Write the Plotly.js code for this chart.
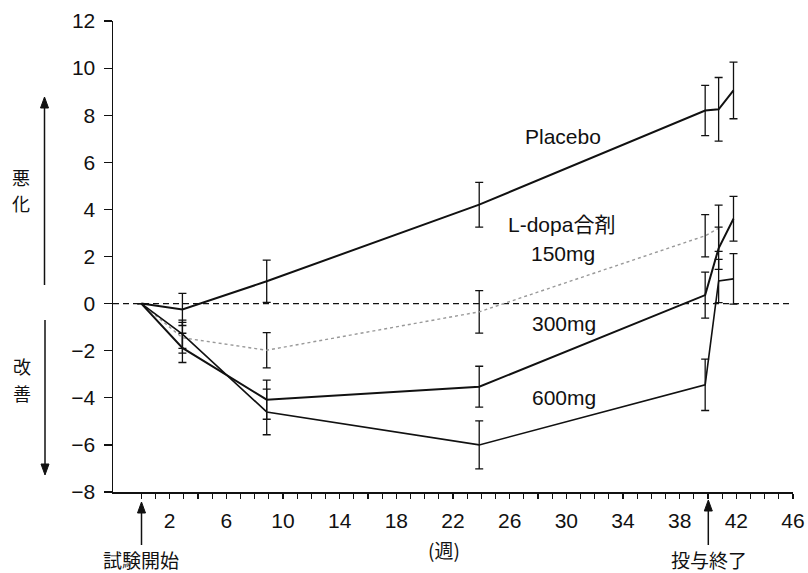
<!DOCTYPE html>
<html>
<head>
<meta charset="utf-8">
<script src="https://cdn.plot.ly/plotly-3.0.1.min.js"></script>
<style>html,body{margin:0;padding:0;background:#fff;}#chart{width:808px;height:573px;}</style>
</head>
<body>
<div id="chart"></div>
<script>
// ---- data (weeks, change from baseline) ----
const placeboWeeks = [0, 2.9, 8.85, 23.85, 39.8, 40.75, 41.8];
const placeboVals  = [0, -0.25, 0.95, 4.2, 8.2, 8.25, 9.05];
const placeboErr   = [null, 0.68, 0.9, 0.95, 1.07, 1.35, 1.2];

const dose150Weeks = [0, 2.9, 8.85, 23.85, 39.8, 40.75];
const dose150Vals  = [0, -1.45, -1.98, -0.35, 2.88, 3.2];
const dose150Err   = [null, 0.65, 0.75, 0.9, 0.9, 0.98];

const dose300Weeks = [0, 2.9, 8.85, 23.85, 39.8, 40.75, 41.8];
const dose300Vals  = [0, -1.88, -4.08, -3.53, 0.36, 2.35, 3.6];
const dose300Err   = [null, 0.62, 0.83, 0.87, 0.98, 0.9, 0.95];

const dose600Weeks = [0, 2.9, 8.85, 23.85, 39.8, 40.75, 41.8];
const dose600Vals  = [0, -1.3, -4.6, -6.0, -3.45, 0.96, 1.05];
const dose600Err   = [null, 0.6, 0.97, 1.02, 1.09, 0.92, 1.07];

const xTickVals = Array.from({length: 47}, (_, i) => i);
const xLabelled = [2, 6, 10, 14, 18, 22, 26, 30, 34, 38, 42, 46];
const yTickVals = [-8, -6, -4, -2, 0, 2, 4, 6, 8, 10, 12];

// ---- geometry helpers (pixel -> paper) ----
const M = {l: 113, r: 15, t: 21, b: 81};
const W = 808, H = 573;
const PW = W - M.l - M.r, PH = H - M.t - M.b;
const px = x => (x - M.l) / PW;
const py = y => (H - M.b - y) / PH;

const NUM_FONT = 'Liberation Sans, Arial, sans-serif';
const CJK_FONT = 'Noto Sans CJK JP, sans-serif';

function series(xs, ys, es, line) {
  return {
    type: 'scatter', mode: 'lines', x: xs, y: ys,
    line: line,
    error_y: {type: 'data', array: es, visible: true, color: '#111', thickness: 1.3, width: 4},
    hoverinfo: 'skip', showlegend: false, cliponaxis: false
  };
}

const traces = [
  series(dose150Weeks, dose150Vals, dose150Err, {color: '#999', width: 1.4, dash: 'dot'}),
  series(placeboWeeks, placeboVals, placeboErr, {color: '#111', width: 2}),
  series(dose300Weeks, dose300Vals, dose300Err, {color: '#111', width: 2}),
  series(dose600Weeks, dose600Vals, dose600Err, {color: '#111', width: 1.6})
];

function txt(t, x, y, size, font) {
  return {text: t, xref: 'paper', yref: 'paper', x: px(x), y: py(y),
          xanchor: 'center', yanchor: 'middle', showarrow: false,
          font: {family: font || NUM_FONT, size: size || 20, color: '#111'}};
}

// arrow drawn as shapes: shaft + filled triangular head
function arrowShapes(x, yHead, yTail) {
  const dir = yHead < yTail ? 1 : -1; // 1: pointing up
  const hl = 11, hw = 4;
  const base = yHead + dir * hl;
  return [
    {type: 'line', xref: 'paper', yref: 'paper', x0: px(x), x1: px(x), y0: py(yTail), y1: py(base),
     line: {color: '#111', width: 1.5}},
    {type: 'path', xref: 'paper', yref: 'paper',
     path: `M ${px(x)} ${py(yHead)} L ${px(x - hw)} ${py(base)} L ${px(x + hw)} ${py(base)} Z`,
     fillcolor: '#111', line: {color: '#111', width: 1}}
  ];
}

const annotations = [
  txt('Placebo', 563, 137, 21),
  txt('L-dopa合剤', 561, 224, 21, NUM_FONT + ', ' + CJK_FONT),
  txt('150mg', 563, 253, 21),
  txt('300mg', 564, 323, 21),
  txt('600mg', 564, 397, 21),
  txt('悪', 21, 177, 18, CJK_FONT),
  txt('化', 21, 203, 18, CJK_FONT),
  txt('改', 22, 366, 18, CJK_FONT),
  txt('善', 22, 393, 18, CJK_FONT),
  txt('試験開始', 141, 559, 19, CJK_FONT),
  txt('投与終了', 709, 559, 19, CJK_FONT),
  txt('(週)', 444, 549, 19, CJK_FONT)
];

const layout = {
  width: W, height: H,
  margin: M,
  paper_bgcolor: '#fff', plot_bgcolor: '#fff',
  showlegend: false,
  xaxis: {
    range: [-2, 46], showgrid: false, zeroline: false,
    showline: true, linecolor: '#111', linewidth: 1.5,
    ticks: 'outside', ticklen: 5, tickwidth: 1.2, tickcolor: '#111',
    tickvals: xTickVals,
    ticktext: xTickVals.map(v => xLabelled.includes(v) ? String(v) : ''),
    tickfont: {family: NUM_FONT, size: 21, color: '#111'},
    ticklabelstandoff: 4
  },
  yaxis: {
    range: [-8, 12], showgrid: false, zeroline: false,
    showline: true, linecolor: '#111', linewidth: 1.5,
    ticks: 'outside', ticklen: 8, tickwidth: 1.2, tickcolor: '#111',
    tickvals: yTickVals,
    tickfont: {family: NUM_FONT, size: 21, color: '#111'},
    ticklabelstandoff: 4
  },
  shapes: [
    {type: 'line', xref: 'paper', yref: 'y', x0: 0, x1: 1, y0: 0, y1: 0,
     line: {color: '#111', width: 1.3, dash: '6px,4px'}, layer: 'below'},
    {type: 'line', xref: 'paper', yref: 'paper', x0: px(104), x1: 0, y0: 0, y1: 0,
     line: {color: '#111', width: 1.5}},
    ...arrowShapes(44.5, 97, 285),
    ...arrowShapes(45, 475, 320),
    ...arrowShapes(141.5, 502, 545),
    ...arrowShapes(708.3, 500, 545)
  ],
  annotations: annotations
};

Plotly.newPlot('chart', traces, layout, {staticPlot: true, displayModeBar: false});
</script>
</body>
</html>
